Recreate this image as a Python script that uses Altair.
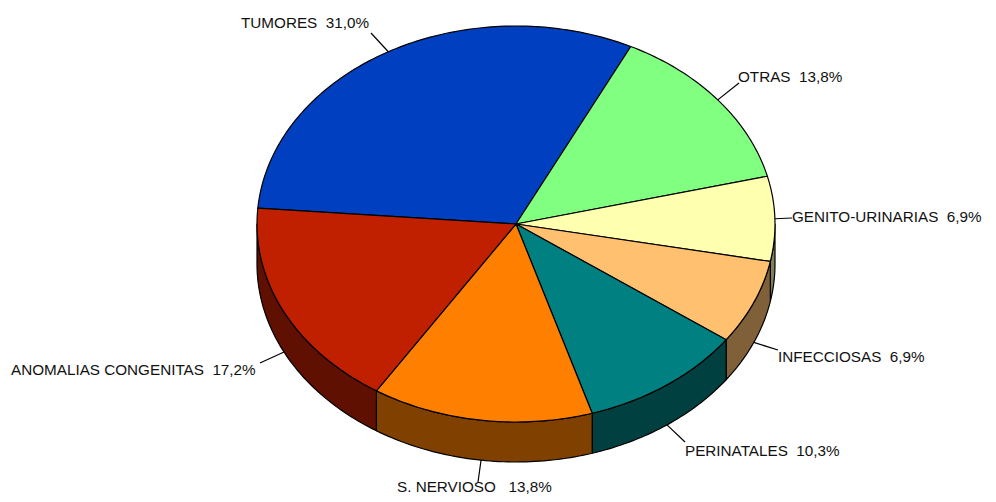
import math
import altair as alt
import pandas as pd

# ---------------- data ----------------
categories = ["TUMORES", "OTRAS", "GENITO-URINARIAS", "INFECCIOSAS",
              "PERINATALES", "S. NERVIOSO", "ANOMALIAS CONGENITAS"]
values = [31.0, 13.8, 6.9, 6.9, 10.3, 13.8, 17.2]
pct_labels = ["31,0%", "13,8%", "6,9%", "6,9%", "10,3%", "13,8%", "17,2%"]

# ---------------- styles / layout ----------------
top_colors = ["#0040C0", "#80FF80", "#FFFFB0", "#FFC070", "#008080", "#FF8000", "#C02000"]
side_colors = ["#002060", "#408040", "#808058", "#806038", "#004040", "#804000", "#601000"]
CX, CY, RX, RY, DEPTH = 516, 224, 259, 198, 40
START_ANGLE = -85.4  # degrees, clockwise from top
# text anchor (left, middle) and leader-line outer end, in page pixels
label_text_pos = [(241, 23), (738, 77), (792, 217), (778, 357), (685, 451), (397, 487), (11, 370)]
leader_end = [(371, 33), (739, 83), (792, 218), (778, 350), (685, 442), (478, 482), (260, 363)]
spacer = ["\u00a0\u00a0", "\u00a0\u00a0", "\u00a0\u00a0", "\u00a0\u00a0", "\u00a0\u00a0", "\u00a0\u00a0\u00a0", "\u00a0\u00a0"]


def pt(t, dy=0.0):
    r = math.radians(t)
    return CX + RX * math.sin(r), CY - RY * math.cos(r) + dy


def arc(a0, a1):
    n = max(2, int(math.ceil(abs(a1 - a0) / 1.0)) + 1)
    return [a0 + (a1 - a0) * k / (n - 1) for k in range(n)]


total = sum(values)
rows = []
leaders = []
texts = []
ang = START_ANGLE
for i, (cat, v) in enumerate(zip(categories, values)):
    sweep = v / total * 360.0
    a0, a1 = ang, ang + sweep
    ang = a1
    # top face
    pts = [(CX, CY)] + [pt(t) for t in arc(a0, a1)]
    for k, (x, y) in enumerate(pts):
        rows.append({"key": cat + " top", "layer": "top", "order": k, "x": x, "y": y})
    # side face (front half: 90..270 deg)
    b0 = a0 % 360.0
    b1 = b0 + sweep
    s0, s1 = max(b0, 90.0), min(b1, 270.0)
    if s1 > s0:
        ts = arc(s0, s1)
        spts = [pt(t) for t in ts] + [pt(t, DEPTH) for t in reversed(ts)]
        for k, (x, y) in enumerate(spts):
            rows.append({"key": cat + " side", "layer": "side", "order": k, "x": x, "y": y})
    # leader line
    mid = (a0 + a1) / 2.0
    front = math.cos(math.radians(mid)) < 0
    lx, ly = pt(mid, DEPTH if front else 0.0)
    ex, ey = leader_end[i]
    leaders.append({"x": lx, "y": ly, "x2": ex, "y2": ey})
    tx, ty = label_text_pos[i]
    texts.append({"x": tx, "y": ty, "label": cat + spacer[i] + pct_labels[i]})

poly = pd.DataFrame(rows)
lead_df = pd.DataFrame(leaders)
text_df = pd.DataFrame(texts)

W, H = 980, 486
xs = alt.Scale(domain=[8, 8 + W], nice=False, zero=False)
ys = alt.Scale(domain=[8, 8 + H], nice=False, zero=False, reverse=True)

fill_domain = [c + " top" for c in categories] + [c + " side" for c in categories]
fill_range = top_colors + side_colors

base_poly = alt.Chart(poly)

sides = base_poly.transform_filter(alt.datum.layer == "side").mark_line(
    interpolate="linear-closed", stroke="black", strokeWidth=1.2, strokeJoin="round"
).encode(
    x=alt.X("x:Q", scale=xs, axis=None),
    y=alt.Y("y:Q", scale=ys, axis=None),
    order="order:Q",
    detail="key:N",
    fill=alt.Fill("key:N", scale=alt.Scale(domain=fill_domain, range=fill_range), legend=None),
)

tops = base_poly.transform_filter(alt.datum.layer == "top").mark_line(
    interpolate="linear-closed", stroke="black", strokeWidth=1.2, strokeJoin="round"
).encode(
    x=alt.X("x:Q", scale=xs, axis=None),
    y=alt.Y("y:Q", scale=ys, axis=None),
    order="order:Q",
    detail="key:N",
    fill=alt.Fill("key:N", scale=alt.Scale(domain=fill_domain, range=fill_range), legend=None),
)

lines = alt.Chart(lead_df).mark_rule(color="black", strokeWidth=1.2).encode(
    x=alt.X("x:Q", scale=xs, axis=None),
    y=alt.Y("y:Q", scale=ys, axis=None),
    x2="x2:Q",
    y2="y2:Q",
)

labels = alt.Chart(text_df).mark_text(
    align="left", baseline="middle", font="Liberation Sans", fontSize=15.25, color="#111111"
).encode(
    x=alt.X("x:Q", scale=xs, axis=None),
    y=alt.Y("y:Q", scale=ys, axis=None),
    text="label:N",
)

chart = alt.layer(sides, tops, lines, labels).properties(
    width=W, height=H, padding=0, autosize=alt.AutoSizeParams(type="none")
).configure_view(stroke=None)

chart.save("out.html", embed_options={"renderer": "svg", "actions": False})
